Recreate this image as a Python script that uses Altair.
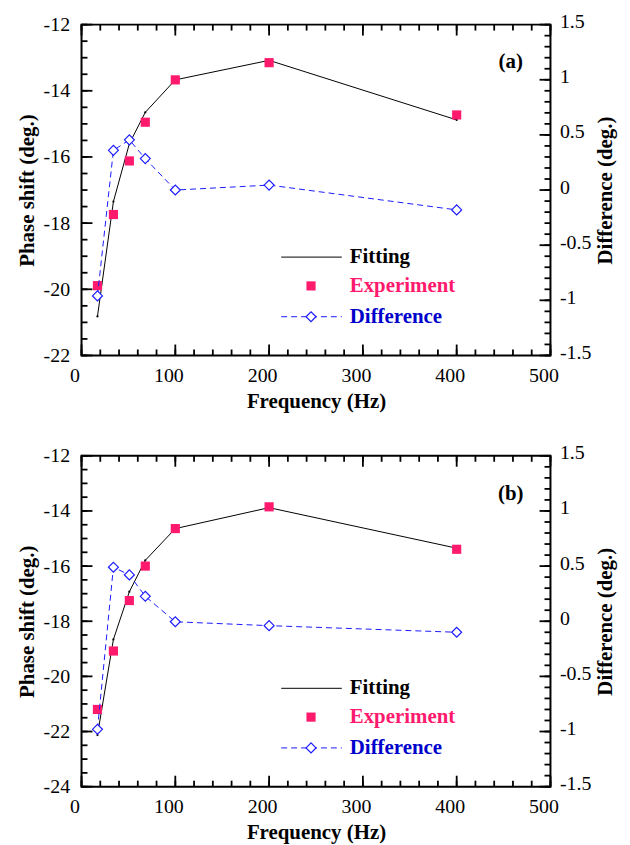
import altair as alt
import pandas as pd

# ---------------- data ----------------
freq = [17, 34, 51, 68, 100, 200, 400]

fit_a = [-20.82, -17.35, -15.6, -14.65, -13.67, -13.08, -14.88]
exp_a = [-19.89, -17.74, -16.12, -14.95, -13.67, -13.15, -14.73]
diff_a = [-0.96, 0.36, 0.455, 0.285, 0.0, 0.045, -0.18]

fit_b = [-22.13, -18.66, -16.93, -15.79, -14.64, -13.88, -15.35]
exp_b = [-21.2, -19.08, -17.25, -16.0, -14.64, -13.85, -15.39]
diff_b = [-0.98, 0.49, 0.42, 0.226, -0.005, -0.04, -0.1]

legend_labels = ["Fitting", "Experiment", "Difference"]
panel_labels = ["(a)", "(b)"]

x_major = [0, 100, 200, 300, 400, 500]
x_minor = list(range(0, 501, 20))
right_major = [-1.5, -1.0, -0.5, 0.0, 0.5, 1.0, 1.5]
right_minor = [round(-1.5 + 0.1 * i, 2) for i in range(31)]

# ---------------- style ----------------
W, H = 472, 333
FONT = "Liberation Serif, 'Times New Roman', Times, serif"
PINK = "#FF1A6E"
BLUE = "#1A1AFF"
DBLUE = "#0000CC"
MAJ, MIN = 11, 6


def const_df():
    return pd.DataFrame({"k": [0]})


def panel(fit, exp, diff, ydom, label):
    df = pd.DataFrame({"f": freq, "fit": fit, "exp": exp, "diff": diff})
    xs = alt.Scale(domain=[0, 500], nice=False, zero=False)
    ysL = alt.Scale(domain=ydom, nice=False, zero=False)
    ysR = alt.Scale(domain=[-1.5, 1.5], nice=False, zero=False)

    left_major = list(range(ydom[0], ydom[1] + 1, 2))
    left_minor = [ydom[0] + 0.5 * i for i in range(int((ydom[1] - ydom[0]) * 2) + 1)]

    x_axis = alt.Axis(values=x_major, title="Frequency (Hz)", labelExpr="datum.value + ''",
                      domain=False, ticks=False, labelPadding=10, titlePadding=5,
                      labelFlush=False, labelOffset=-7)
    yl_axis = alt.Axis(values=left_major, title="Phase shift (deg.)", labelExpr="datum.value + ''",
                       domain=False, ticks=False, labelPadding=12, titlePadding=6)
    yr_axis = alt.Axis(values=right_major, title="Difference (deg.)", orient="right",
                       labelExpr="datum.value + ''", domain=False, ticks=False,
                       labelPadding=9, titlePadding=4, titleAngle=270, titleBaseline="top",
                       labelOffset=-3)

    def X(field):
        return alt.X(field, scale=xs, axis=x_axis)

    def YL(field):
        return alt.Y(field, scale=ysL, axis=yl_axis)

    def YR(field):
        return alt.Y(field, scale=ysR, axis=yr_axis)

    fit_line = alt.Chart(df).mark_line(color="black", strokeWidth=1).encode(
        x=X("f:Q"), y=YL("fit:Q"))
    fit_pts = alt.Chart(df).mark_point(filled=True, color="black", size=5, opacity=1).encode(
        x=X("f:Q"), y=YL("fit:Q"))
    exp_pts = alt.Chart(df).mark_square(color=PINK, size=85, opacity=1).encode(
        x=X("f:Q"), y=YL("exp:Q"))

    tdf = lambda v: pd.DataFrame({"v": v})
    rule = dict(color="black", strokeWidth=1.8)
    xt_bot_min = alt.Chart(tdf(x_minor)).mark_rule(**rule).encode(
        x=X("v:Q"), y=alt.value(H), y2=alt.value(H - MIN))
    xt_bot_maj = alt.Chart(tdf(x_major)).mark_rule(**rule).encode(
        x=X("v:Q"), y=alt.value(H), y2=alt.value(H - MAJ))
    xt_top_min = alt.Chart(tdf(x_minor)).mark_rule(**rule).encode(
        x=X("v:Q"), y=alt.value(0), y2=alt.value(MIN))
    xt_top_maj = alt.Chart(tdf(x_major)).mark_rule(**rule).encode(
        x=X("v:Q"), y=alt.value(0), y2=alt.value(MAJ))
    yl_min = alt.Chart(tdf(left_minor)).mark_rule(**rule).encode(
        y=YL("v:Q"), x=alt.value(0), x2=alt.value(MIN))
    yl_maj = alt.Chart(tdf(left_major)).mark_rule(**rule).encode(
        y=YL("v:Q"), x=alt.value(0), x2=alt.value(MAJ))

    # legend + panel label
    lx0, lx1, lmid, ltx = 201, 262, 231, 270
    rows = [234, 263, 294]
    leg_line = alt.Chart(const_df()).mark_rule(color="black", strokeWidth=1).encode(
        x=alt.value(lx0), x2=alt.value(lx1), y=alt.value(rows[0]))
    leg_sq = alt.Chart(const_df()).mark_square(color=PINK, size=85, opacity=1).encode(
        x=alt.value(lmid), y=alt.value(rows[1]))
    leg_dash = alt.Chart(const_df()).mark_rule(color=BLUE, strokeWidth=1, strokeDash=[6, 4]).encode(
        x=alt.value(lx0), x2=alt.value(lx1), y=alt.value(rows[2]))
    leg_dia = alt.Chart(const_df()).mark_point(shape="diamond", filled=True, fill="white",
                                              stroke=BLUE, strokeWidth=1.2, size=100, opacity=1).encode(
        x=alt.value(lmid), y=alt.value(rows[2]))
    leg_texts = []
    for lab, yy, col in zip(legend_labels, rows, ["black", PINK, DBLUE]):
        leg_texts.append(
            alt.Chart(pd.DataFrame({"t": [lab]})).mark_text(
                font=FONT, fontSize=21, fontWeight="bold", color=col, align="left", baseline="middle"
            ).encode(text="t:N", x=alt.value(ltx), y=alt.value(yy))
        )
    plabel = alt.Chart(pd.DataFrame({"t": [label]})).mark_text(
        font=FONT, fontSize=21, fontWeight="bold", color="black", align="center", baseline="middle"
    ).encode(text="t:N", x=alt.value(432), y=alt.value(38))

    left = alt.layer(fit_line, fit_pts, exp_pts, xt_bot_min, xt_bot_maj, xt_top_min, xt_top_maj,
                     yl_min, yl_maj, leg_line, leg_sq, leg_dash, leg_dia, *leg_texts, plabel)

    diff_line = alt.Chart(df).mark_line(color=BLUE, strokeWidth=1, strokeDash=[6, 4]).encode(
        x=X("f:Q"), y=YR("diff:Q"))
    diff_pts = alt.Chart(df).mark_point(shape="diamond", filled=True, fill="white", stroke=BLUE,
                                        strokeWidth=1.2, size=100, opacity=1).encode(
        x=X("f:Q"), y=YR("diff:Q"))
    yr_min = alt.Chart(tdf(right_minor)).mark_rule(**rule).encode(
        y=YR("v:Q"), x=alt.value(W), x2=alt.value(W - MIN))
    yr_maj = alt.Chart(tdf(right_major)).mark_rule(**rule).encode(
        y=YR("v:Q"), x=alt.value(W), x2=alt.value(W - MAJ))
    right = alt.layer(diff_line, diff_pts, yr_min, yr_maj)

    return alt.layer(left, right).resolve_scale(y="independent").properties(width=W, height=H)


pa = panel(fit_a, exp_a, diff_a, [-22, -12], panel_labels[0])
pb = panel(fit_b, exp_b, diff_b, [-24, -12], panel_labels[1])

chart = alt.vconcat(pa, pb, spacing=30).properties(
    padding={"left": 7, "top": 0, "right": 5, "bottom": 0}
).configure_view(stroke="black", strokeWidth=2).configure_axis(
    grid=False,
    labelFont=FONT, labelFontSize=20, labelColor="black",
    titleFont=FONT, titleFontSize=21, titleFontWeight="bold", titleColor="black",
)

chart.save("out.html", embed_options={"renderer": "svg", "actions": False})
